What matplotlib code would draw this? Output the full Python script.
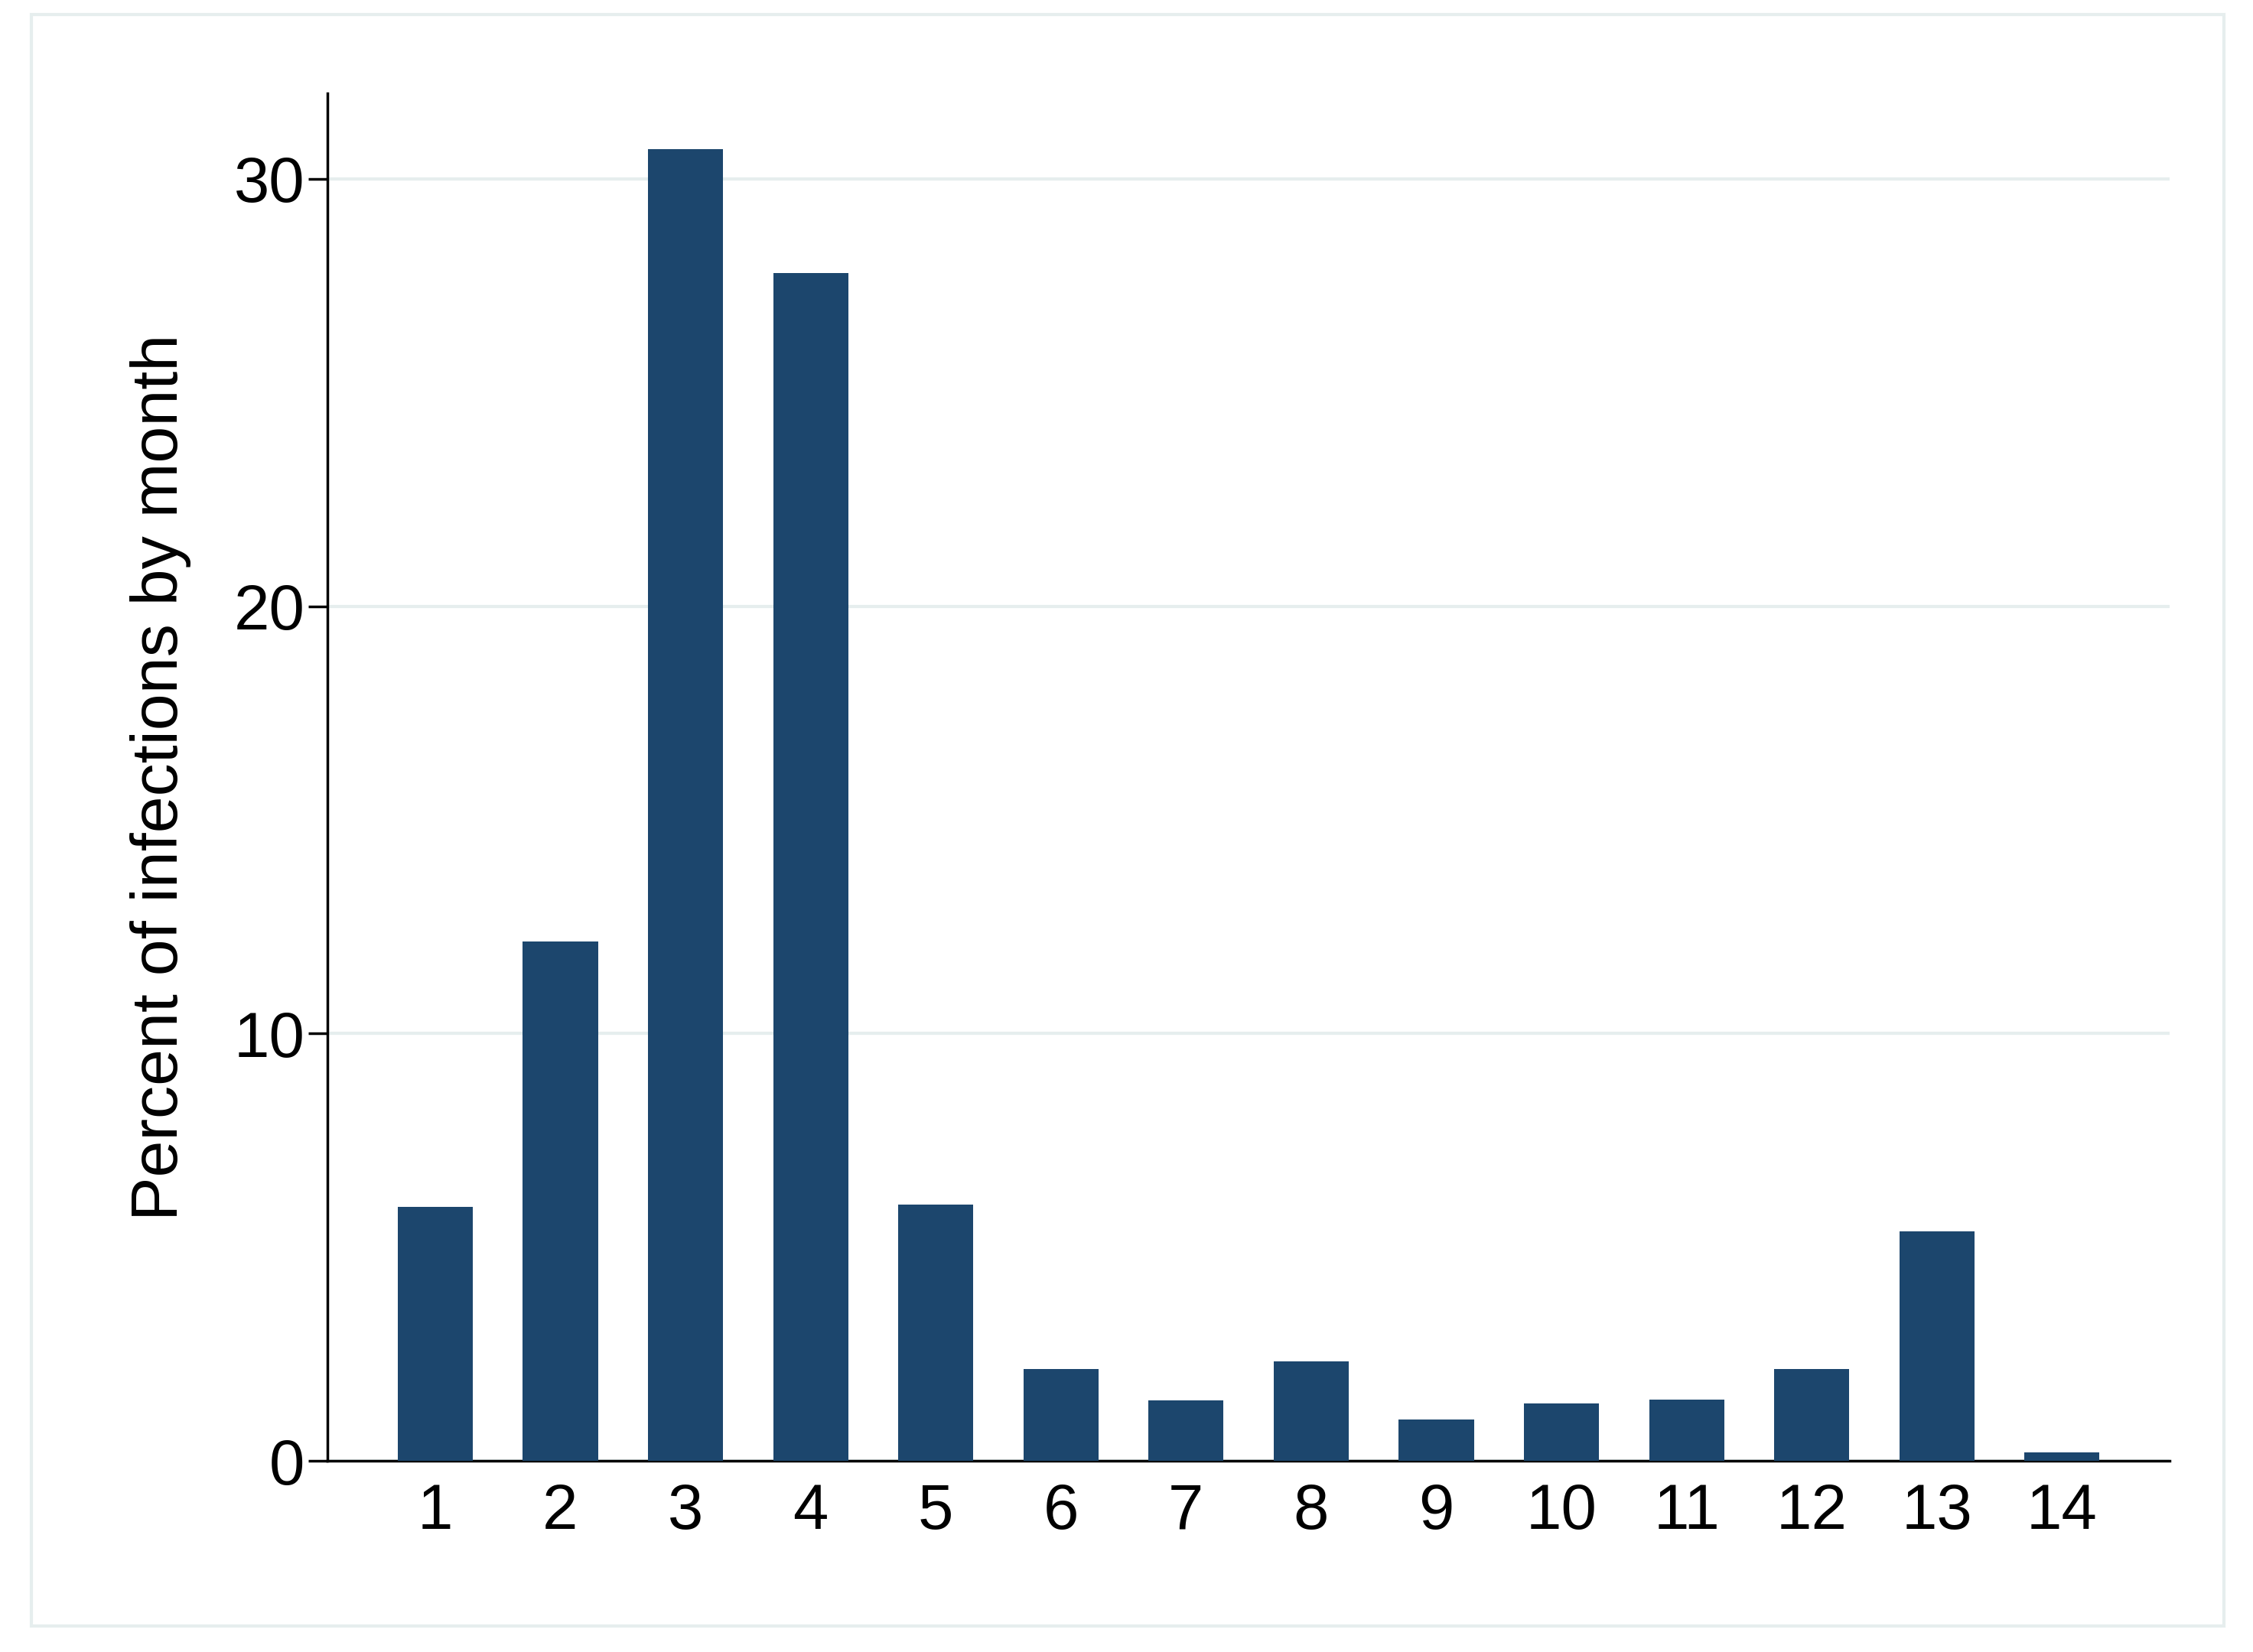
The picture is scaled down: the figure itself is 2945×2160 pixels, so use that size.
import matplotlib
matplotlib.use("Agg")
import matplotlib.pyplot as plt
from matplotlib.patches import Rectangle

months = list(range(1, 15))
percent = [5.94, 12.15, 30.7, 27.8, 6.0, 2.15, 1.41, 2.32, 0.97, 1.34, 1.44, 2.15, 5.37, 0.2]
yticks = [0, 10, 20, 30]

plt.rcParams['font.family'] = ['Liberation Sans', 'DejaVu Sans']
fig = plt.figure(figsize=(29.45, 21.6), dpi=100)
fig.patches.append(Rectangle((22/1568, 1-1132/1150), 1526/1568, 1122/1150, transform=fig.transFigure,
                             fill=False, edgecolor='#e6eeee', linewidth=3))
ax = fig.add_axes([0.1454, 0.1157, 0.963-0.1454, 0.9435-0.1157])
ax.bar(months, percent, width=0.6, color='#1c466d', zorder=3)
ax.set_xlim(0.14, 14.86)
ax.set_ylim(0, 32)
ax.set_yticks(yticks)
ax.set_xticks(months)
ax.grid(axis='y', color='#e6eeee', linewidth=3, zorder=0)
for s in ['top', 'right']:
    ax.spines[s].set_visible(False)
for s in ['left', 'bottom']:
    ax.spines[s].set_linewidth(2.5)
ax.tick_params(axis='both', labelsize=60, width=2.5, length=18)
ax.tick_params(axis='x', length=0, pad=20)
ax.set_ylabel('Percent of infections by month', fontsize=62, labelpad=40)
fig.savefig('out.png', dpi=100)
